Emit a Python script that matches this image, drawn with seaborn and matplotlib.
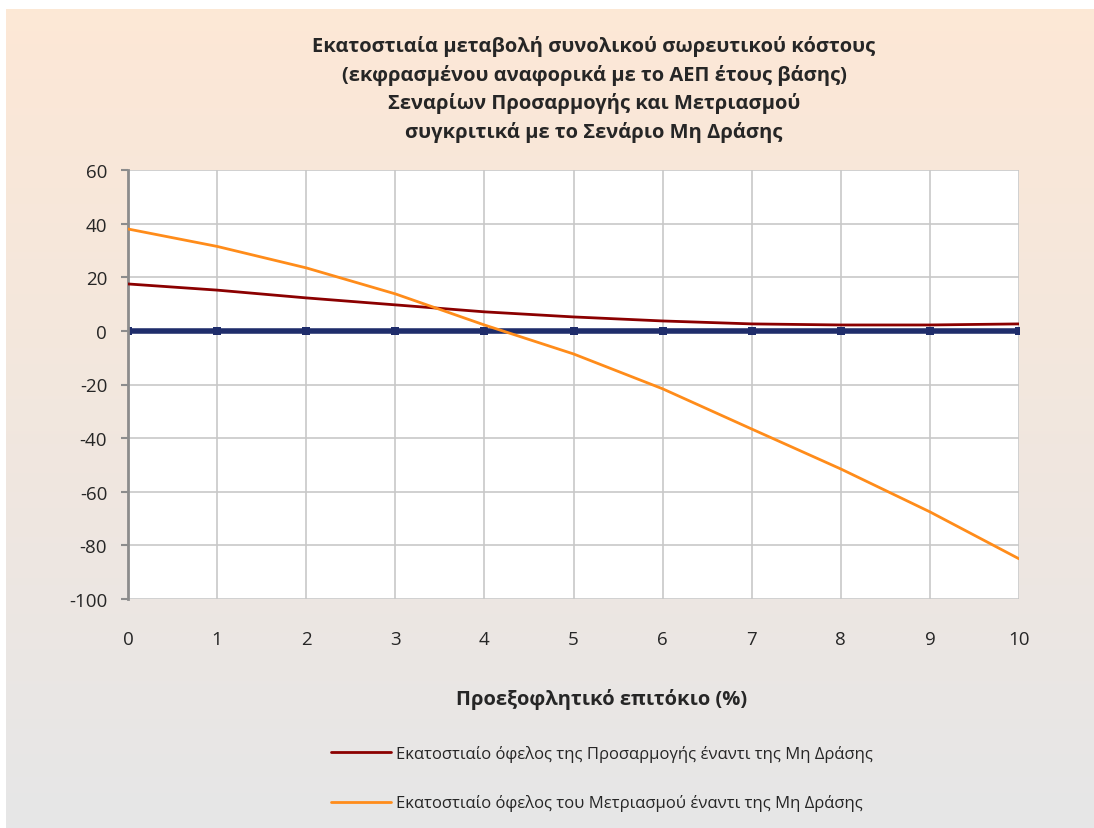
import numpy as np
import pandas as pd
import seaborn as sns
import matplotlib.pyplot as plt

# values
rates = [0, 1, 2, 3, 4, 5, 6, 7, 8, 9, 10]
adaptation = [17.5, 15.2, 12.3, 9.7, 7.1, 5.2, 3.7, 2.6, 2.2, 2.2, 2.6]
mitigation = [38.0, 31.5, 23.5, 13.8, 2.2, -8.6, -21.6, -36.6, -51.5, -67.5, -85.0]
no_action = [0, 0, 0, 0, 0, 0, 0, 0, 0, 0, 0]

label_adapt = 'Εκατοστιαίο όφελος της Προσαρμογής έναντι της Μη Δράσης'
label_mitig = 'Εκατοστιαίο όφελος του Μετριασμού έναντι της Μη Δράσης'
title = ('Εκατοστιαία μεταβολή συνολικού σωρευτικού κόστους\n'
         '(εκφρασμένου αναφορικά με το ΑΕΠ έτους βάσης)\n'
         'Σεναρίων Προσαρμογής και Μετριασμού\n'
         'συγκριτικά με το Σενάριο Μη Δράσης')

df = pd.DataFrame({
    'rate': rates * 2,
    'value': adaptation + mitigation,
    'series': [label_adapt] * len(rates) + [label_mitig] * len(rates),
})
df_zero = pd.DataFrame({'rate': rates, 'value': no_action})

sns.set_style('white')
plt.rcParams['font.family'] = ['Open Sans', 'DejaVu Sans']
plt.rcParams['axes.unicode_minus'] = False

fig = plt.figure(figsize=(10.94, 8.29), dpi=100)
fig.patch.set_facecolor('white')

# gradient background panel
bg = fig.add_axes([6 / 1094, 0, 1 - 6 / 1094, 1 - 10 / 829])
grad = np.linspace(0, 1, 256).reshape(-1, 1)
top = np.array([0.992, 0.910, 0.839])
bot = np.array([0.902, 0.902, 0.906])
img = top[None, None, :] * (1 - grad[:, :, None]) + bot[None, None, :] * grad[:, :, None]
bg.imshow(img, aspect='auto', extent=[0, 1, 0, 1])
bg.set_axis_off()

ax = fig.add_axes([128 / 1094, 1 - 600 / 829, (1019 - 128) / 1094, (600 - 171) / 829])
ax.set_facecolor('white')

palette = {label_adapt: '#8B0000', label_mitig: '#FF8C1A'}
sns.lineplot(data=df, x='rate', y='value', hue='series', palette=palette,
             linewidth=2, ax=ax, zorder=3)
sns.lineplot(data=df_zero, x='rate', y='value', color='#1F2D6B', linewidth=4,
             marker='s', markersize=6, markeredgewidth=0, legend=False, ax=ax, zorder=2)

ax.set_xlim(0, 10)
ax.set_ylim(-100, 60)
ax.set_xticks(rates)
ax.set_yticks(range(-100, 61, 20))
ax.grid(True, color='#C8C8C8', linewidth=1.2)
ax.set_axisbelow(True)
for s in ['top', 'right', 'bottom']:
    ax.spines[s].set_visible(False)
ax.spines['left'].set_color('#8C8C8C')
ax.spines['left'].set_linewidth(2)
ax.tick_params(axis='y', left=True, length=5, width=1.5, color='#8C8C8C',
               pad=10, labelsize=13.5)
ax.tick_params(axis='x', bottom=False, pad=19, labelsize=13.5)

ax.set_ylabel('')
ax.set_xlabel('Προεξοφλητικό επιτόκιο (%)', fontsize=14.5, fontweight='bold')
ax.xaxis.set_label_coords(0.532, -0.208)

fig.text(0.543, 1 - 36 / 829, title, ha='center', va='top', fontsize=14.5,
         fontweight='bold', linespacing=1.47)

handles, labels = ax.get_legend_handles_labels()
ax.legend(handles, labels, loc='upper center', bbox_to_anchor=(0.532, -0.305),
          frameon=False, fontsize=12, labelspacing=1.95, handlelength=3.6,
          handletextpad=0.25)

plt.savefig('out.png', dpi=100)
